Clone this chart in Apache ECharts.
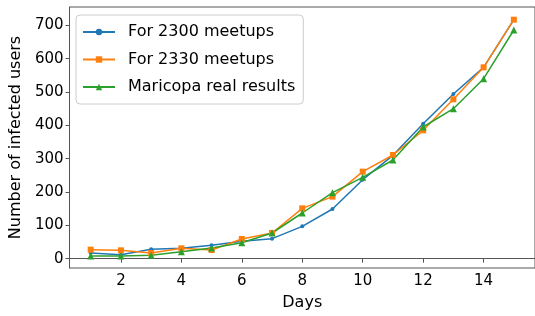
<!DOCTYPE html>
<html lang="en">
<head>
    <meta charset="UTF-8">
    <title>Infected users</title>
    <script src="https://cdn.jsdelivr.net/npm/echarts@6/dist/echarts.min.js"></script>
    <style>
        * { margin: 0; padding: 0; }
        html, body { width: 535px; height: 316px; background: #fff; }
    </style>
</head>
<body>
<div id="main" style="width: 535px; height: 316px;"></div>
<script type="text/javascript">
    // data
    var days = [1, 2, 3, 4, 5, 6, 7, 8, 9, 10, 11, 12, 13, 14, 15];
    var meetups2300 = [17, 12, 28, 31, 40, 52, 60, 97, 149, 237, 310, 405, 494, 574, 717];
    var meetups2330 = [27, 25, 17, 31, 26, 59, 77, 151, 186, 261, 311, 385, 478, 574, 717];
    var maricopa = [8, 8, 10, 21, 32, 48, 77, 137, 198, 244, 296, 395, 450, 540, 686];
    var xTicks = [2, 4, 6, 8, 10, 12, 14];
    var yTicks = [0, 100, 200, 300, 400, 500, 600, 700];

    function pairs(ys) {
        return days.map(function (d, i) { return [d, ys[i]]; });
    }

    var font = 'DejaVu Sans';
    var myChart = echarts.init(document.getElementById('main'), null, {renderer: 'canvas'});
    var option = {
        animation: false,
        backgroundColor: '#fff',
        grid: {
            left: 68, top: 7, width: 471, height: 263,
            show: true, borderColor: '#555', borderWidth: 1
        },
        legend: {
            left: 76, top: 15, orient: 'vertical',
            padding: [7, 8, 7, 6],
            itemWidth: 32, itemHeight: 8, itemGap: 7.5,
            borderColor: '#ccc', borderWidth: 1, borderRadius: 4,
            backgroundColor: 'rgba(255,255,255,0.8)',
            textStyle: {fontFamily: font, fontSize: 16, color: '#000', lineHeight: 20, padding: [0, 0, 0, 8]},
            data: ['For 2300 meetups', 'For 2330 meetups', 'Maricopa real results']
        },
        xAxis: {
            type: 'value', min: 0.3, max: 15.7,
            name: 'Days', nameLocation: 'middle', nameGap: 27,
            nameTextStyle: {fontFamily: font, fontSize: 16, color: '#000'},
            splitLine: {show: false},
            axisLine: {lineStyle: {color: '#555'}},
            axisTick: {length: 4, lineStyle: {color: '#555'}, customValues: xTicks},
            axisLabel: {fontFamily: font, fontSize: 15, color: '#000', margin: 6, customValues: xTicks}
        },
        yAxis: {
            type: 'value', min: -28, max: 755,
            name: 'Number of infected users', nameLocation: 'middle', nameGap: 35,
            nameTextStyle: {fontFamily: font, fontSize: 16, color: '#000'},
            splitLine: {show: false},
            axisLine: {show: true, lineStyle: {color: '#555'}},
            axisTick: {show: true, length: 4, lineStyle: {color: '#555'}, customValues: yTicks},
            axisLabel: {fontFamily: font, fontSize: 15, color: '#000', margin: 6, customValues: yTicks}
        },
        series: [
            {
                name: 'For 2300 meetups', type: 'line', data: pairs(meetups2300),
                color: '#1f77b4', symbol: 'circle', symbolSize: 4,
                lineStyle: {width: 1.5}
            },
            {
                name: 'For 2330 meetups', type: 'line', data: pairs(meetups2330),
                color: '#ff7f0e', symbol: 'rect', symbolSize: 6,
                lineStyle: {width: 1.5}
            },
            {
                name: 'Maricopa real results', type: 'line', data: pairs(maricopa),
                color: '#2ca02c', symbol: 'triangle', symbolSize: 7,
                lineStyle: {width: 1.5}
            }
        ]
    };
    myChart.setOption(option);
</script>
</body>
</html>
